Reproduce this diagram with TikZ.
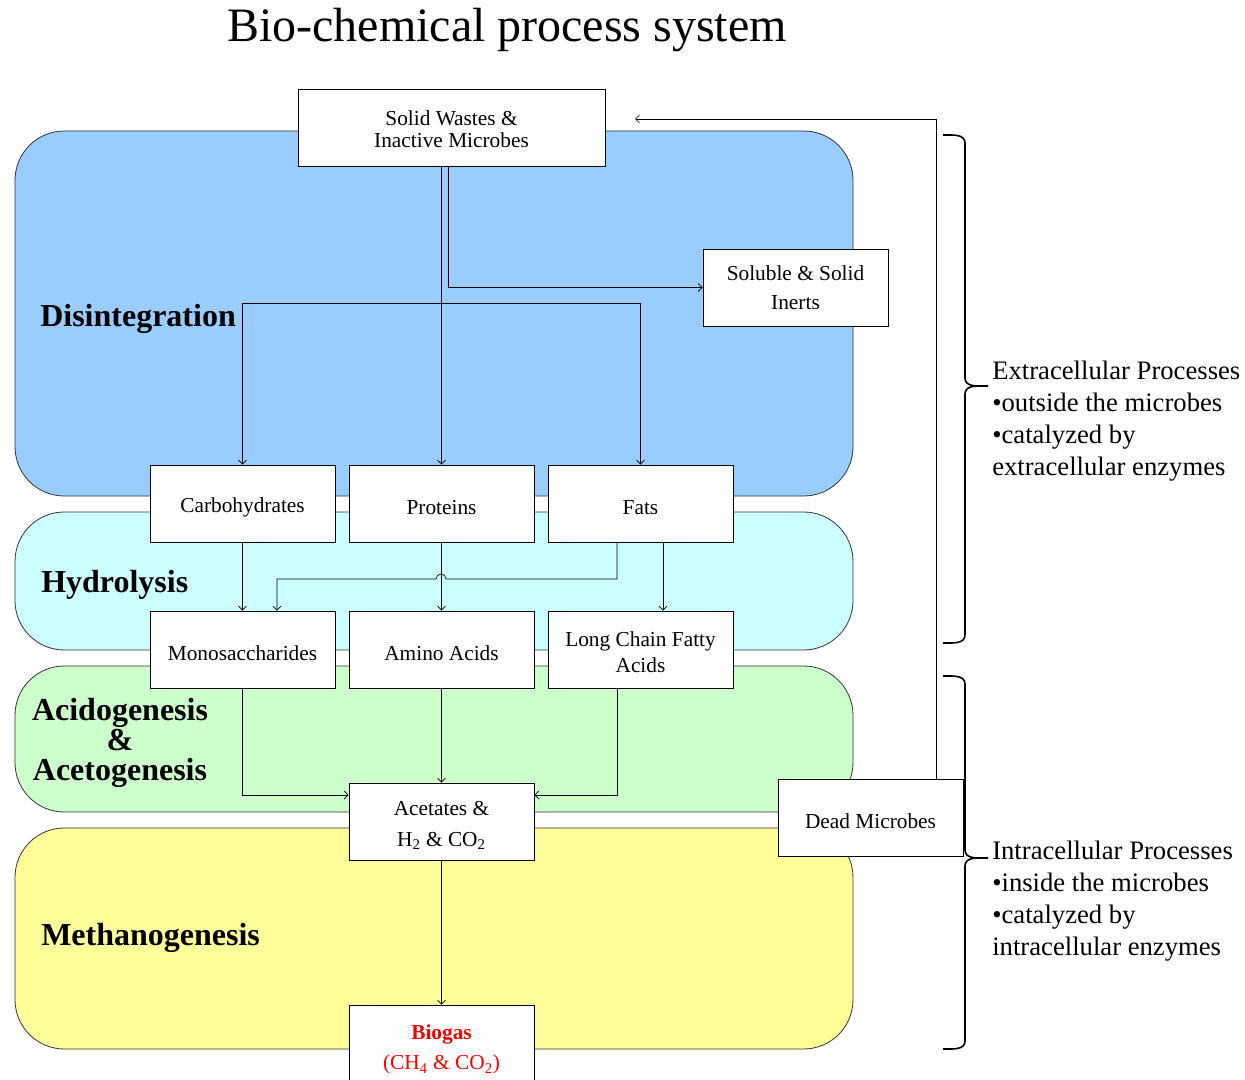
\documentclass[tikz,border=0pt]{standalone}
\usepackage{fontspec}
\setmainfont{Liberation Serif}
\usetikzlibrary{arrows.meta,positioning,calc}

\definecolor{disblue}{HTML}{99CCFF}
\definecolor{hydcyan}{HTML}{CCFFFF}
\definecolor{acigreen}{HTML}{CCFFCC}
\definecolor{metyellow}{HTML}{FFFF99}
\newcommand{\lift}[1]{\rule{0pt}{#1}}

\begin{document}
\begin{tikzpicture}[x=0.75pt,y=-0.75pt,
  stage/.style={draw=black!80,line width=0.6pt,rounded corners=37pt},
  box/.style={draw,fill=white,line width=0.6pt,minimum width=138.75pt,minimum height=57.75pt,
    inner sep=0pt,align=center,font=\fontsize{16}{19.5}\selectfont,
    execute at begin node={\rule{0pt}{17pt}}},
  arr/.style={-{Straight Barb[length=3pt,width=6pt]},line width=0.5pt},
  phase/.style={font=\fontsize{24}{22.5}\selectfont\bfseries,anchor=west,inner sep=0pt},
  note/.style={font=\fontsize{20}{24}\selectfont,align=left,anchor=west,inner sep=0pt},
  brc/.style={line width=1.2pt}]
\useasboundingbox (0,0) rectangle (1245,1080);
% Title
\node[font=\fontsize{36}{40}\selectfont] (title) at (507,30) {Bio-chemical process system};
% Stage bands
\filldraw[stage,fill=disblue] (15,131) rectangle (853,496);
\filldraw[stage,fill=hydcyan] (15,512) rectangle (853,650);
\filldraw[stage,fill=acigreen] (15,666) rectangle (853,812);
\filldraw[stage,fill=metyellow] (15,828) rectangle (853,1049);
\node[phase] (dis) at (40,319) {Disintegration};
\node[phase] (hyd) at (41,585) {Hydrolysis};
\node[phase,anchor=center,align=center] (aci) at (120,743) {Acidogenesis\\\&\\Acetogenesis};
\node[phase] (met) at (41,938) {Methanogenesis};
% Boxes
\node[box,minimum width=230.25pt,font=\fontsize{16}{16.5}\selectfont] (sw) at (451.5,127.5) {\lift{13pt}Solid Wastes \&\\Inactive Microbes};
\node[box,font=\fontsize{16}{21.75}\selectfont] (inerts) at (795.5,287.5) {Soluble \& Solid\\Inerts};
\node[box] (carb) at (242.5,503.5) {Carbohydrates};
\node[box] (prot) at (441.5,503.5) {Proteins};
\node[box] (fats) at (640.5,503.5) {Fats};
\node[box] (mono) at (242.5,649.5) {Monosaccharides};
\node[box] (amino) at (441.5,649.5) {Amino Acids};
\node[box] (lcfa) at (640.5,649.5) {\lift{15.5pt}Long Chain Fatty\\Acids};
\node[box,font=\fontsize{16}{23}\selectfont] (acet) at (441.5,821.5) {\lift{16.5pt}Acetates \&\\H\textsubscript{2} \& CO\textsubscript{2}};
\node[box] (dead) at (870.5,817.5) {Dead Microbes};
\node[box,text=red,font=\fontsize{16}{22.5}\selectfont] (biogas) at (441.5,1043.5) {\lift{20pt}\textbf{Biogas}\\(CH\textsubscript{4} \& CO\textsubscript{2})};
% Disintegration
\coordinate (split) at (441.5,303);
\draw[arr] (sw.south -| prot) -- (prot.north);
\draw[arr] ($(sw.south)+(-3.5,0)$) |- (inerts.west);
\draw[arr] (split) -| (carb.north);
\draw[arr] (split) -| (fats.north);
% Hydrolysis
\draw[arr] (carb.south) -- (mono.north);
\draw[arr] (prot.south) -- (amino.north);
\draw[arr] ($(fats.south)+(22.5,0)$) -- ($(lcfa.north)+(22.5,0)$);
\draw[arr] ($(fats.south)+(-23.5,0)$) |- (446,579) arc[start angle=0,end angle=180,radius=3.75pt]
  -| ($(mono.north)+(34.5,0)$);
% Acidogenesis, methanogenesis
\draw[arr] (mono.south) |- ($(acet.west)+(0,-26.5)$);
\draw[arr] (amino.south) -- (acet.north);
\draw[arr] ($(lcfa.south)+(-23.5,0)$) |- ($(acet.east)+(0,-26.5)$);
\draw[arr] (acet.south) -- (biogas.north);
% Return of dead microbes
\coordinate (ret) at (635,119);
\draw[arr] ($(dead.north)+(65.5,0)$) |- (ret);
% Braces
\foreach \t/\m/\b in {135/386/643, 676/858/1049} {
  \draw[brc] (943,\t) to[out=0,in=90] (965,\t+8) -- (965,\m-8) to[out=-90,in=180] (988,\m)
    to[out=180,in=90] (965,\m+8) -- (965,\b-8) to[out=-90,in=0] (943,\b);
}
\node[note] (extra) at (992,421) {Extracellular Processes\\\textbullet outside the microbes\\\textbullet catalyzed by\\extracellular enzymes};
\node[note] (intra) at (992,901) {Intracellular Processes\\\textbullet inside the microbes\\\textbullet catalyzed by\\intracellular enzymes};
\end{tikzpicture}
\end{document}
